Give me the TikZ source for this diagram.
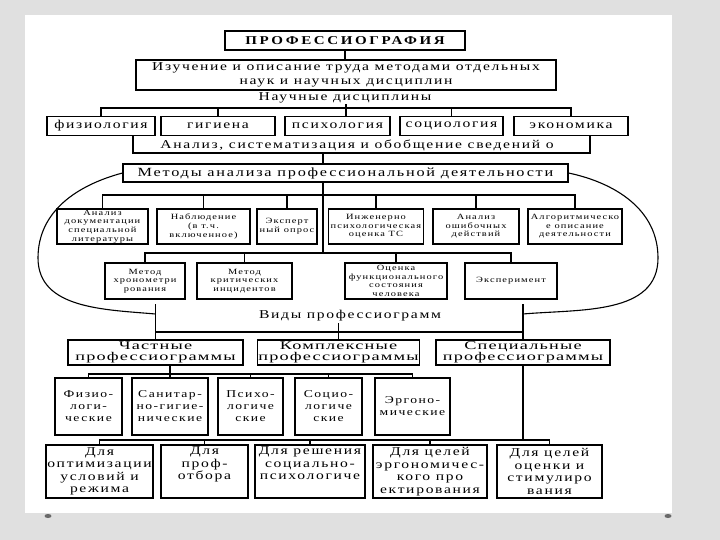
\documentclass[tikz,border=0pt]{standalone}
\usepackage{fontspec}
\setmainfont{Liberation Serif}
\newfontfamily\scanfont[FakeStretch=1.3,LetterSpace=14]{Liberation Serif}
\newfontfamily\widefont[FakeStretch=1.55,LetterSpace=10]{Liberation Serif}
\newfontfamily\headfont[FakeStretch=1.25,LetterSpace=22]{Liberation Serif}
\usetikzlibrary{positioning}
\definecolor{slidegray}{RGB}{224,224,224}
\definecolor{pindot}{RGB}{105,105,105}

\begin{document}
\begin{tikzpicture}[x=1pt, y=-1pt, line width=1.1pt,
    box/.style={draw, rectangle, inner sep=1pt, align=center,
      font=\scanfont\fontsize{12}{13.5}\selectfont},
    methbox/.style={box, font=\scanfont\fontsize{8}{8.6}\selectfont},
    kindbox/.style={box, font=\widefont\fontsize{11.8}{11}\selectfont},
    subbox/.style={box, font=\scanfont\fontsize{10.5}{12}\selectfont},
    goalbox/.style={box, font=\scanfont\fontsize{12}{12.5}\selectfont},
    caption/.style={inner sep=1pt, font=\scanfont\fontsize{12}{13.5}\selectfont}]
  \useasboundingbox (0,0) rectangle (720,540);
  \fill[slidegray] (0,0) rectangle (720,540);
  \fill[white] (25,15) rectangle (672,513);
  \fill[pindot] (48,516) ellipse (3.5 and 2);
  \fill[pindot] (668,516) ellipse (3.5 and 2);

  % top of the tree
  \node[box, minimum width=240, minimum height=19,
    font=\headfont\bfseries\fontsize{12}{14}\selectfont] (prof) at (345,40.5) {ПРОФЕССИОГРАФИЯ};
  \node[box, minimum width=420, minimum height=30] (study) at (346,75)
    {Изучение и описание труда методами отдельных\\наук и научных дисциплин};
  \draw (prof.south) -- (prof.south |- study.north);

  % disciplines
  \node[box, minimum width=108, minimum height=19] (fiz) at (101,126) {физиология};
  \node[box, minimum width=114, minimum height=19] (gig) at (218,126) {гигиена};
  \node[box, minimum width=105, minimum height=19] (psy) at (337.5,126) {психология};
  \node[box, minimum width=103, minimum height=19] (soc) at (451.5,126) {социология};
  \node[box, minimum width=114, minimum height=19] (eco) at (571,126) {экономика};
  \draw (study.south) -- (study.south |- psy.north);
  \node[caption, fill=white] (sci) at (345,97.5) {Научные дисциплины};
  \draw (fiz.north) |- (eco.north |- 0,108) -- (eco.north);
  \foreach \d in {gig,soc} \draw (\d.north) -- (\d.north |- 0,108);

  \node[caption] (anl) at (357,145) {Анализ, систематизация и обобщение сведений о};
  \coordinate (brl) at (133,136);
  \coordinate (brr) at (590,136);
  \draw (brl) |- (brr |- 0,153) -- (brr);

  % methods
  \coordinate (trunk) at (323,153);
  \node[box, minimum width=445, minimum height=18,
    font=\scanfont\fontsize{12.5}{14}\selectfont] (meth) at (345.5,173) {Методы анализа профессиональной деятельности};
  \draw (trunk) -- (trunk |- meth.north);

  \node[methbox, minimum width=91, minimum height=35] (doc) at (102.5,226.5) {Анализ\\документации\\специальной\\литературы};
  \node[methbox, minimum width=93, minimum height=35] (obs) at (203.5,226.5) {Наблюдение\\(в т.ч.\\включенное)};
  \node[methbox, minimum width=60, minimum height=35] (expq) at (287,226.5) {Эксперт\\ный опрос};
  \node[methbox, minimum width=95, minimum height=35] (eng) at (376,226.5) {Инженерно\\психологическая\\оценка ТС};
  \node[methbox, minimum width=86, minimum height=35] (err) at (476,226.5) {Анализ\\ошибочных\\действий};
  \node[methbox, minimum width=94, minimum height=35] (alg) at (575,226.5) {Алгоритмическо\\е описание\\деятельности};
  \draw (doc.north) |- (alg.north |- 0,195) -- (alg.north);
  \foreach \m in {obs,expq,eng,err} \draw (\m.north) -- (\m.north |- 0,195);

  \draw (trunk |- meth.south) -- (trunk |- 0,253);
  \node[methbox, minimum width=80, minimum height=36] (chron) at (145,281) {Метод\\хронометри\\рования};
  \node[methbox, minimum width=95, minimum height=36] (crit) at (244.5,281) {Метод\\критических\\инцидентов};
  \node[methbox, minimum width=102, minimum height=36] (func) at (396,281) {Оценка\\функционального\\состояния\\человека};
  \node[methbox, minimum width=92, minimum height=36] (expm) at (511,281) {Эксперимент};
  \draw (chron.north) |- (expm.north |- 0,253) -- (expm.north);
  \foreach \m in {crit,func} \draw (\m.north) -- (\m.north |- 0,253);

  % kinds of professiograms
  \node[caption] (vidy) at (350,316) {Виды профессиограмм};
  \node[kindbox, minimum width=175, minimum height=25] (part) at (155.5,352.5) {Частные\\профессиограммы};
  \node[kindbox, minimum width=161, minimum height=25] (kompl) at (338.5,352.5) {Комплексные\\профессиограммы};
  \node[kindbox, minimum width=174, minimum height=25] (spec) at (523,352.5) {Специальные\\профессиограммы};
  \coordinate (kl) at (part.north |- 0,314);
  \coordinate (kr) at (spec.north |- 0,314);
  \draw (meth.west) to[out=195,in=90] (38,258) to[out=-90,in=175] (kl);
  \draw (meth.east) to[out=-12,in=90] (658,258) to[out=-90,in=5] (kr);
  \draw (part.north) -- ++(0,-35);
  \draw (spec.north) -- ++(0,-35);
  \draw (part.north |- 0,332) -- (spec.north |- 0,332);
  \draw (kompl.north) -- (kompl.north |- vidy.south);

  \node[subbox, minimum width=67, minimum height=57] (fizio) at (88.5,406.5) {Физио-\\логи-\\ческие};
  \node[subbox, minimum width=76, minimum height=57] (sanit) at (170,406.5) {Санитар-\\но-гигие-\\нические};
  \node[subbox, minimum width=65, minimum height=57] (psikh) at (250.5,406.5) {Психо-\\логиче\\ские};
  \node[subbox, minimum width=67, minimum height=57] (sotsi) at (328.5,406.5) {Социо-\\логиче\\ские};
  \node[subbox, minimum width=75, minimum height=57] (ergo) at (412.5,406.5) {Эргоно-\\мические};
  \draw (sanit.north) -- (sanit.north |- part.south);
  \draw (fizio.north) |- (ergo.north |- 0,374) -- (ergo.north);
  \foreach \s in {psikh,sotsi} \draw (\s.north) -- (\s.north |- 0,374);

  % goals
  \node[goalbox, minimum width=107, minimum height=53] (opt) at (99.5,471.5) {Для\\оптимизации\\условий и\\режима};
  \node[goalbox, minimum width=87, minimum height=53] (sel) at (204.5,471.5) {Для\\проф-\\отбора\\\strut};
  \node[goalbox, minimum width=110, minimum height=53] (socps) at (310,471.5) {Для решения\\социально-\\психологиче\\\strut};
  \node[goalbox, minimum width=114, minimum height=53] (ergd) at (430,471.5) {Для целей\\эргономичес-\\кого про\\ектирования};
  \node[goalbox, minimum width=105, minimum height=53] (stim) at (549.5,471.5) {Для целей\\оценки и\\стимулиро\\вания};
  \draw (spec.south) -- (spec.south |- 0,440);
  \draw (opt.north) |- (stim.north |- 0,440) -- (stim.north);
  \foreach \g in {sel,socps,ergd} \draw (\g.north) -- (\g.north |- 0,440);
\end{tikzpicture}
\end{document}
